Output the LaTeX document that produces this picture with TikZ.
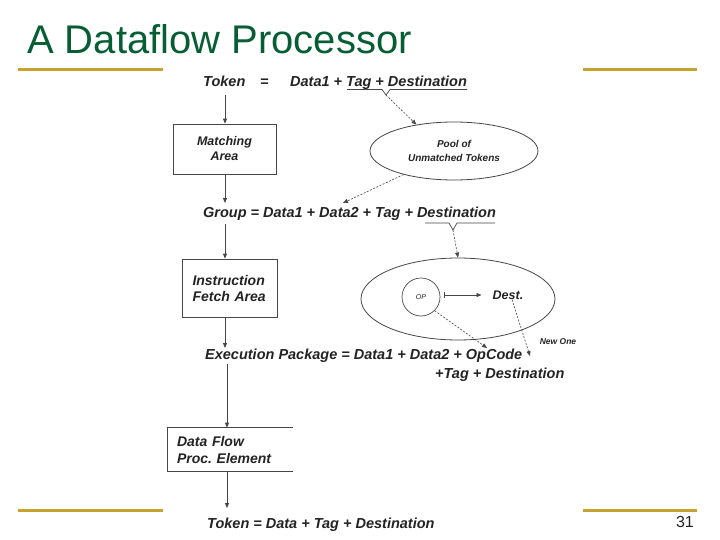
\documentclass[tikz,border=0pt]{standalone}
\usepackage{fontspec}
\setmainfont{Liberation Sans}
\usetikzlibrary{arrows.meta,shapes.geometric}
\definecolor{titlegreen}{RGB}{8,94,52}
\definecolor{gold}{RGB}{200,162,48}
\definecolor{ink}{RGB}{35,35,35}
\definecolor{linec}{RGB}{70,70,70}
\frenchspacing
\begin{document}
\begin{tikzpicture}[x=1pt,y=-1pt,
  txt/.style={inner sep=0pt, anchor=base west, text=ink, font=\fontsize{14.5}{16}\selectfont\bfseries\itshape},
  flow/.style={draw=linec, line width=0.8pt, -{Triangle[length=5pt,width=4pt]}},
  dflow/.style={draw=linec, line width=0.6pt, dash pattern=on 2pt off 1.5pt, -{Triangle[length=5pt,width=4pt]}},
  brace/.style={draw=linec, line width=0.7pt},
  pbox/.style={rectangle, inner ysep=0pt, text=ink, line width=0.8pt},
  goldrule/.style={draw=gold, line width=3pt}
]
\useasboundingbox (0,0) rectangle (720,540);
\fill[white] (0,0) rectangle (720,540);

% slide frame
\node[anchor=base west, inner sep=0pt, text=titlegreen, font=\fontsize{40}{44}\selectfont] (title) at (27,54) {A Dataflow Processor};
\draw[goldrule] (18,70) -- (163,70);
\draw[goldrule] (583,70) -- (697,70);
\draw[goldrule] (18,510) -- (163,510);
\draw[goldrule] (583,510) -- (697,510);
\node[anchor=base east, inner sep=0pt, text=ink, font=\fontsize{16}{18}\selectfont] (pgno) at (694,527) {31};

% token definition
\node[txt] (tok) at (203,87) {Token};
\node[txt] (eq) at (260,87) {=};
\node[txt] (tokdef) at (290,87) {Data1 + Tag + Destination};
\coordinate (tnotch) at (386,95);
\draw[brace] (347,89.5) -- (382,89.5) -- (tnotch) -- (390,89.5) -- (467,89.5);

% matching area
\node[pbox, draw=linec, minimum width=103pt, minimum height=50pt, align=center,
      font=\fontsize{12.5}{15}\selectfont\bfseries\itshape] (mbox) at (224.5,149) {Matching\\Area};
\coordinate (a0) at (225,95);
\draw[flow] (a0) -- (mbox.north -| a0);

% pool
\node[ellipse, draw=linec, line width=0.8pt, minimum width=168pt, minimum height=58pt, inner sep=0pt,
      align=center, text=ink, font=\fontsize{10}{14}\selectfont\bfseries\itshape] (pool) at (454,151) {Pool of\\Unmatched Tokens};
\draw[dflow] (tnotch) -- (pool.145);

% group
\node[txt] (grp) at (203,218) {Group = Data1 + Data2 + Tag + Destination};
\coordinate (gIn) at (343,203);
\draw[dflow] (pool.205) -- (gIn);
\coordinate (gTop) at (225,203);
\draw[flow] (mbox.south -| gTop) -- (gTop);
\coordinate (gnotch) at (453,230);
\draw[brace] (425,223) -- (449,223) -- (gnotch) -- (457,223) -- (495,223);

% instruction fetch
\node[pbox, draw=linec, minimum width=95pt, minimum height=58pt, text width=82pt, inner xsep=6.5pt, align=left,
      font=\fontsize{14}{16}\selectfont\bfseries\itshape] (ifa) at (229.5,288) {\hspace*{4pt}Instruction\\\hspace*{4pt}Fetch Area};
\coordinate (gBot) at (225,224);
\draw[flow] (gBot) -- (ifa.north -| gBot);

% big ellipse with op and dest
\node[ellipse, draw=linec, line width=0.8pt, minimum width=194pt, minimum height=82pt, inner sep=0pt] (big) at (458,299) {};
\draw[dflow] (gnotch) -- (big.north);
\node[circle, draw=linec, line width=0.7pt, minimum size=38pt, inner sep=0pt, text=ink,
      font=\fontsize{7}{8}\selectfont\itshape] (op) at (421,297) {OP};
\node[inner sep=0pt, text=ink, font=\fontsize{12.5}{14}\selectfont\bfseries\itshape] (dest) at (508,295) {Dest.};
\draw[draw=linec, line width=0.8pt, {Bar[width=6pt]}-{Triangle[length=5pt,width=4pt]}, shorten >=11pt]
      ([xshift=4pt,yshift=2pt]op.east) -- (dest.west);

% execution package
\node[txt] (exe) at (205,359) {Execution Package = Data1 + Data2 + OpCode};
\node[txt] (exe2) at (435,378) {+Tag + Destination};
\coordinate (eOp) at (487,348);
\coordinate (eDest) at (530,356);
\draw[dflow] (op.-45) -- (eOp);
\draw[dflow] ([xshift=4pt]dest.south) -- (eDest);
\node[inner sep=0pt, text=ink, font=\fontsize{8.5}{10}\selectfont\bfseries\itshape] (newone) at (558,342) {New One};
\coordinate (eTop) at (225,348);
\draw[flow] (ifa.south -| eTop) -- (eTop);

% data flow processing element
\node[pbox, minimum width=125pt, minimum height=43pt, text width=107pt, inner xsep=9pt, align=left,
      font=\fontsize{14}{17}\selectfont\bfseries\itshape] (dfpe) at (230.5,449.5) {Data Flow\\Proc. Element};
\draw[draw=linec, line width=0.8pt] (dfpe.north east) -- (dfpe.north west) -- (dfpe.south west) -- (dfpe.south east);
\coordinate (eBot) at (227,364);
\draw[flow] (eBot) -- (dfpe.north -| eBot);

% output token
\node[txt] (tokf) at (207,528) {Token = Data + Tag + Destination};
\coordinate (fTop) at (227,508);
\draw[flow] (dfpe.south -| fTop) -- (fTop);
\end{tikzpicture}
\end{document}
